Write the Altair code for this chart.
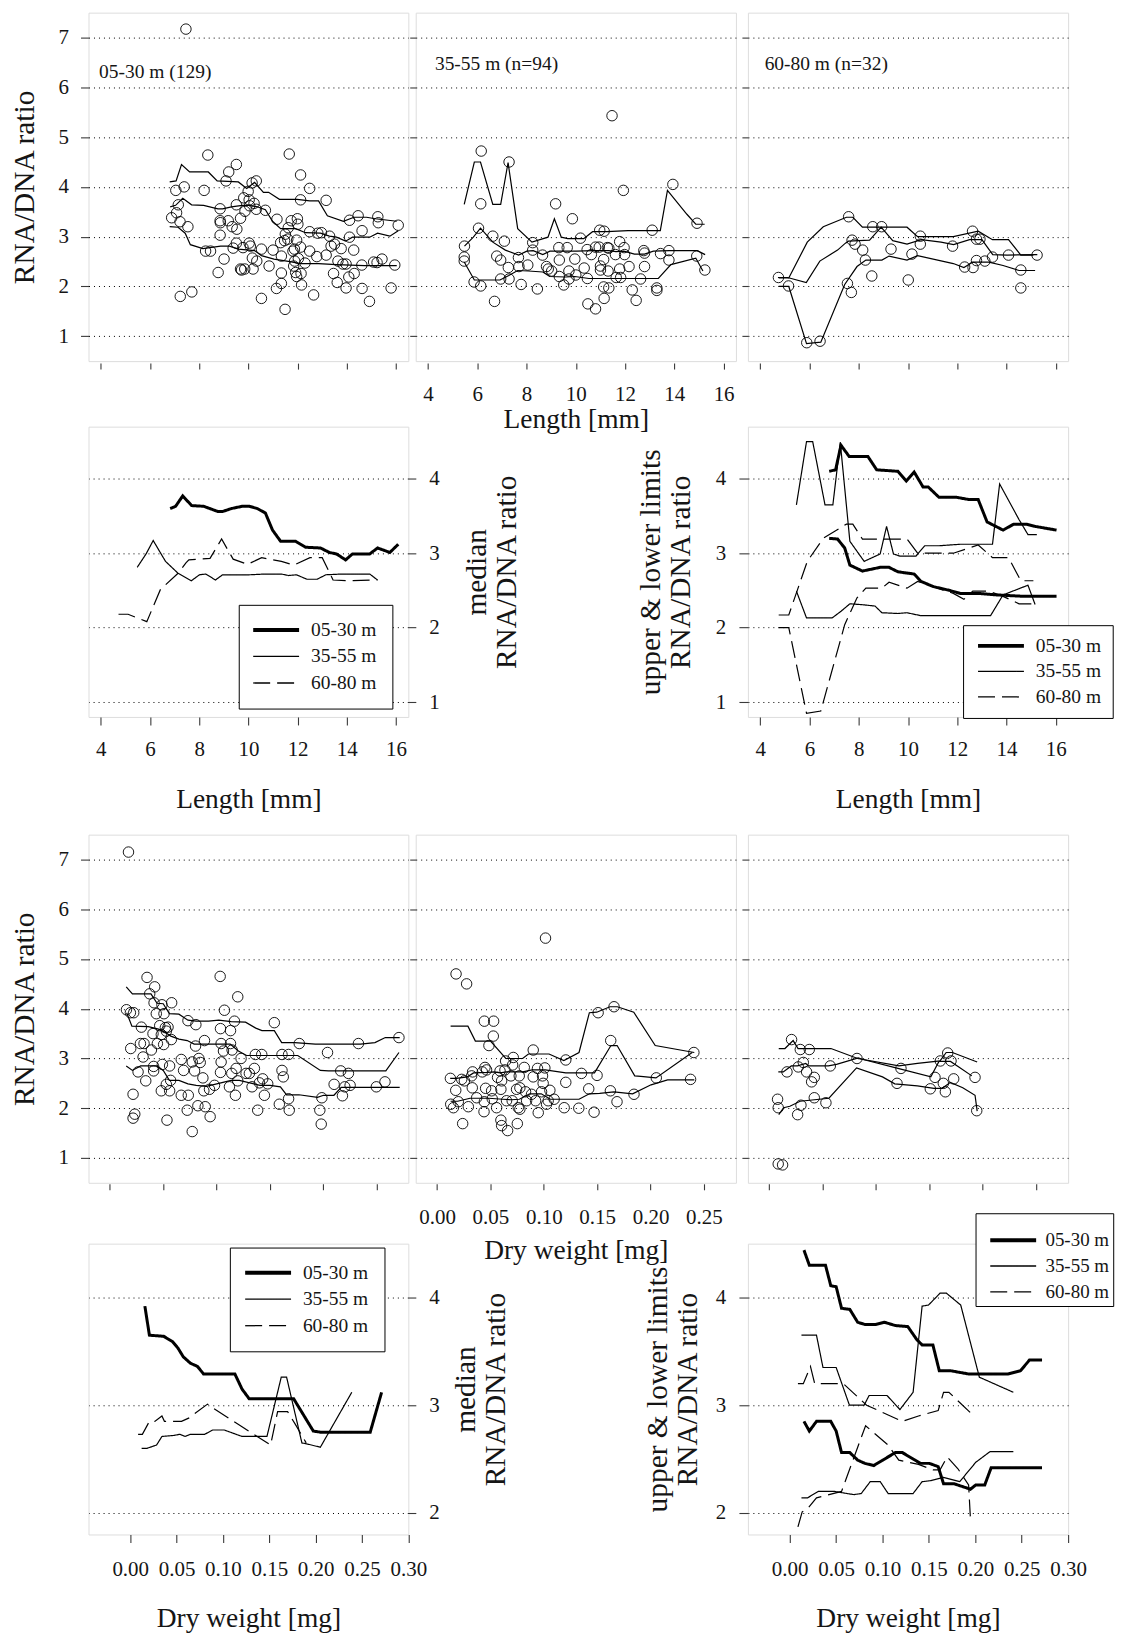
import altair as alt
import pandas as pd

FONT = "Liberation Serif"
INK = "#151515"
TICK = "#3a3a3a"
FRAME = "#5a5a5a"

DEPTHS = ["05-30 m", "35-55 m", "60-80 m"]
PANEL_LABELS = ["05-30 m (129)", "35-55 m (n=94)", "60-80 m (n=32)"]

LEN_TICKS = [4, 6, 8, 10, 12, 14, 16]
DW_TICKS_SCATTER = [0.0, 0.05, 0.1, 0.15, 0.2, 0.25]
DW_TICKS_SUMMARY = [0.0, 0.05, 0.1, 0.15, 0.2, 0.25, 0.3]
RATIO_TICKS_SCATTER = [1, 2, 3, 4, 5, 6, 7]
RATIO_TICKS_LEN = [1, 2, 3, 4]
RATIO_TICKS_DW = [2, 3, 4]

LEN_DOMAIN = [3.5, 16.5]
DW_DOMAIN_SCATTER = [-0.02, 0.28]
DW_DOMAIN_SUMMARY = [-0.045, 0.30]
RATIO_DOMAIN_SCATTER = [0.5, 7.5]
RATIO_DOMAIN_LEN = [0.8, 4.7]
RATIO_DOMAIN_DW = [1.8, 4.5]

# ---------------- individual fish: (length mm, RNA/DNA) ----------------
LEN_0530 = [(7.46,7.17),(6.88,3.38),(7.05,3.93),(7.08,3.48),(7.15,3.64),(7.22,3.30),(7.39,4.00),(7.54,3.20),(7.23,1.80),(7.70,1.89),
            (8.20,3.93),(8.35,4.64),(8.26,2.71),(8.46,2.71),(8.77,2.28),(8.85,3.56),(8.85,3.32),(8.86,3.28),(8.85,3.03),(9.01,2.55),
            (9.09,4.12),(9.20,4.30),(9.18,3.32),(9.34,3.20),(9.38,2.77),(9.51,4.45),(9.51,3.64),(9.53,3.15),(9.51,2.87),(9.68,3.37),
            (9.68,2.35),(9.78,2.78),(9.81,3.78),(9.85,2.35),(9.86,3.51),(9.99,3.91),(10.03,2.87),(10.03,3.74),(10.05,3.62),(10.08,2.81),
            (10.15,4.08),(10.16,2.57),(10.19,2.35),(10.23,3.67),(10.32,4.12),(10.32,3.55),(10.34,2.51),(10.53,2.75),(10.53,1.76),(10.69,3.53),
            (10.84,2.41),(11.00,2.73),(11.16,3.35),(11.14,1.96),(11.31,2.88),(11.34,2.61),(11.34,2.27),(11.34,2.06),(11.47,2.92),(11.49,1.54),
            (11.50,3.05),(11.66,4.66),(11.62,3.18),(11.74,3.32),(11.81,2.71),(11.88,2.51),(11.84,2.41),(11.96,2.93),(11.99,3.36),(12.01,3.25),
            (11.92,2.28),(11.96,2.20),(12.03,2.56),(12.12,4.24),(12.12,2.79),(12.12,3.74),(12.14,2.26),(12.16,2.03),(12.30,2.47),(12.49,2.71),
            (12.49,3.97),(12.49,3.10),(12.65,1.83),(12.78,2.60),(12.82,3.07),(12.97,3.08),(13.16,3.73),(13.16,2.63),(13.30,3.01),(13.36,2.81),
            (13.46,2.26),(13.50,2.85),(13.61,2.08),(13.64,2.51),(13.77,2.76),(13.84,2.45),(13.97,2.45),(13.97,1.97),(14.08,2.19),(14.11,3.33),
            (14.11,2.99),(14.28,2.73),(14.30,2.26),(14.46,3.42),(14.62,3.12),(14.61,2.43),(14.62,1.96),(14.92,1.70),(15.09,2.49),(15.23,2.48),
            (15.26,3.40),(15.28,3.28),(15.43,2.55),(15.80,1.97),(15.95,2.43),(16.09,3.23),(11.87,2.75),(9.72,2.33),(11.60,2.95)]
LEN_3555 = [(6.16,4.72),(7.29,4.50),(11.47,5.43),(13.94,4.05),(11.93,3.93),(6.14,3.66),(9.18,3.66),(9.86,3.36),(14.92,3.27),(10.97,3.13),
            (11.15,3.11),(13.10,3.13),(6.05,3.17),(5.48,2.81),(6.63,3.01),(7.10,2.91),(5.47,2.59),(5.47,2.51),(5.87,2.09),(6.14,2.01),
            (6.70,1.70),(6.79,2.61),(6.95,2.53),(6.95,2.15),(7.26,2.38),(7.29,2.15),(7.67,2.58),(7.69,2.40),(7.78,2.04),(8.05,2.43),
            (8.25,2.88),(8.25,2.73),(8.44,1.95),(8.65,2.63),(8.81,2.40),(8.88,2.35),(9.31,2.78),(9.33,2.53),(9.33,2.20),(9.51,2.03),
            (9.65,2.78),(9.72,2.31),(9.72,2.15),(9.96,2.55),(10.00,2.23),(10.19,2.97),(10.34,2.37),(10.46,2.74),(10.47,2.16),(10.49,1.65),
            (10.63,2.64),(10.80,1.55),(10.80,2.79),(10.95,2.79),(11.00,2.41),(11.00,2.33),(11.13,2.54),(11.13,1.99),(11.15,1.76),(11.28,2.78),
            (11.31,2.31),(11.34,1.97),(11.61,2.64),(11.64,2.18),(11.78,2.90),(11.78,2.35),(11.82,2.18),(11.96,2.78),(11.98,2.64),(12.16,2.40),
            (12.29,1.93),(12.45,1.72),(12.63,2.15),(12.76,2.72),(12.79,2.40),(13.29,1.97),(13.29,1.92),(13.44,2.66),(13.78,2.72),(13.78,2.53),
            (14.91,2.61),(15.24,2.33),(9.02,2.31),(12.79,2.67),(11.34,2.77)]
LEN_6080 = [(4.74,2.18),(5.15,2.01),(5.89,0.87),(6.43,0.90),(7.59,3.40),(7.54,2.06),(7.70,1.88),(7.73,2.93),(7.85,2.85),(8.16,2.73),
            (8.27,2.53),(8.53,2.21),(8.57,3.20),(8.93,3.20),(9.31,2.75),(10.01,2.13),(10.16,2.65),(10.50,3.01),(10.50,2.85),(11.81,2.81),
            (12.30,2.39),(12.62,3.11),(12.64,2.38),(12.78,2.52),(12.78,2.95),(12.92,2.95),(13.12,2.51),(13.43,2.59),(14.08,2.63),(14.58,2.33),
            (14.58,1.97),(15.24,2.63)]

# ---------------- individual fish: (dry weight mg, RNA/DNA) ----------------
DW_0530 = [(0.0175,7.15),(0.0156,3.98),(0.0193,3.92),(0.0224,3.92),(0.0196,3.20),(0.0218,2.28),(0.0218,1.80),(0.0234,1.88),(0.0265,2.73),(0.0296,3.63),
           (0.0287,3.30),(0.0312,3.03),(0.0321,3.30),(0.0337,2.55),(0.0349,4.63),(0.0374,4.30),(0.0390,3.17),(0.0405,3.50),(0.0415,4.12),(0.0421,4.44),
           (0.0411,2.84),(0.0411,2.75),(0.0436,3.90),(0.0446,3.30),(0.0468,3.66),(0.0483,3.48),(0.0489,4.08),(0.0493,2.88),(0.0483,2.35),(0.0505,3.28),
           (0.0508,3.90),(0.0521,3.62),(0.0530,3.55),(0.0530,2.48),(0.0546,3.63),(0.0561,2.85),(0.0561,2.35),(0.0536,1.76),(0.0570,2.56),(0.0577,3.38),
           (0.0580,4.12),(0.0670,2.98),(0.0670,2.26),(0.0692,2.76),(0.0726,1.96),(0.0736,2.26),(0.0733,3.76),(0.0773,1.53),(0.0773,2.93),(0.0795,2.75),
           (0.0804,3.25),(0.0807,3.68),(0.0826,2.05),(0.0835,3.00),(0.0848,2.92),(0.0873,2.61),(0.0882,2.35),(0.0888,3.36),(0.0895,2.03),(0.0935,2.38),
           (0.0941,1.83),(0.0982,2.46),(0.1035,4.65),(0.1038,3.60),(0.1044,3.30),(0.1044,2.93),(0.1038,2.72),(0.1066,3.15),(0.1075,3.97),(0.1122,2.43),
           (0.1132,3.56),(0.1132,3.30),(0.1144,2.70),(0.1147,3.17),(0.1169,3.75),(0.1178,2.26),(0.1185,2.80),(0.1200,4.24),(0.1200,2.55),(0.1231,3.00),
           (0.1278,2.70),(0.1309,2.70),(0.1334,2.43),(0.1356,2.80),(0.1365,3.08),(0.1387,1.96),(0.1403,2.51),(0.1425,3.08),(0.1434,2.59),(0.1450,2.26),
           (0.1481,2.49),(0.1543,3.72),(0.1590,2.08),(0.1615,3.08),(0.1615,2.76),(0.1627,2.63),(0.1677,3.08),(0.1677,2.19),(0.1683,1.96),(0.1777,3.30),
           (0.1970,1.96),(0.1983,1.68),(0.1989,2.21),(0.2042,3.12),(0.2104,2.48),(0.2166,2.75),(0.2182,2.25),(0.2204,2.43),(0.2238,2.70),(0.2254,2.46),
           (0.2332,3.30),(0.2500,2.43),(0.2581,2.53),(0.2712,3.42)]
DW_3555 = [(0.0178,4.70),(0.0277,4.50),(0.1016,5.42),(0.1509,3.92),(0.1658,4.04),(0.0443,3.75),(0.0530,3.75),(0.0527,3.45),(0.0486,3.26),(0.0901,3.17),
           (0.1206,2.97),(0.1627,3.36),(0.2406,3.12),(0.0125,2.60),(0.0175,2.36),(0.0128,2.08),(0.0153,2.01),(0.0199,2.13),(0.0240,1.69),(0.0231,2.58),
           (0.0256,2.55),(0.0293,2.03),(0.0324,2.65),(0.0333,2.73),(0.0330,2.41),(0.0371,2.21),(0.0424,2.73),(0.0440,1.93),(0.0449,2.82),(0.0455,2.40),
           (0.0464,2.77),(0.0443,2.13),(0.0511,2.35),(0.0517,2.19),(0.0558,2.01),(0.0567,2.62),(0.0598,2.38),(0.0605,2.55),(0.0598,1.76),(0.0605,1.65),
           (0.0636,2.77),(0.0642,2.95),(0.0651,2.15),(0.0661,1.55),(0.0692,2.65),(0.0708,2.87),(0.0714,3.02),(0.0704,2.15),(0.0745,2.38),(0.0752,1.69),
           (0.0761,2.01),(0.0770,2.65),(0.0776,2.41),(0.0776,1.98),(0.0817,2.82),(0.0829,2.33),(0.0839,2.15),(0.0885,2.28),(0.0901,2.63),(0.0923,2.15),
           (0.0941,2.80),(0.0948,1.91),(0.0979,2.33),(0.0988,2.65),(0.1010,2.81),(0.0994,2.50),(0.1026,2.08),(0.1041,2.15),(0.1057,2.36),(0.1097,2.18),
           (0.1191,2.01),(0.1206,2.52),(0.1328,2.00),(0.1353,2.70),(0.1421,2.39),(0.1471,1.92),(0.1499,2.66),(0.1624,2.35),(0.1686,2.13),(0.1845,2.28),
           (0.2054,2.61),(0.2375,2.58),(0.0590,2.75)]
DW_6080 = [(0.0084,0.88),(0.0125,0.86),(0.0078,2.18),(0.0084,2.01),(0.0166,2.73),(0.0209,3.38),(0.0266,1.87),(0.0297,2.06),(0.0272,2.83),(0.0291,3.18),
           (0.0319,2.92),(0.0350,2.73),(0.0375,3.18),(0.0422,2.62),(0.0397,2.53),(0.0422,2.21),(0.0531,2.11),(0.0572,2.85),(0.0822,3.00),(0.1197,2.50),
           (0.1234,2.80),(0.1509,2.39),(0.1553,2.62),(0.1603,2.95),(0.1631,2.50),(0.1650,2.33),(0.1672,3.11),(0.1703,2.95),(0.1728,2.59),(0.1928,2.62),
           (0.1944,1.95)]

# ---------------- running median / limits vs length ----------------
LEN_MED_0530 = [(6.82,3.60),(7.04,3.63),(7.33,3.77),(7.69,3.64),(8.18,3.63),(8.76,3.56),(8.95,3.56),(9.31,3.60),(9.75,3.63),(10.04,3.63),
                (10.36,3.60),(10.69,3.54),(10.98,3.31),(11.31,3.16),(11.92,3.16),(12.32,3.08),(12.93,3.07),(13.29,3.01),(13.58,2.99),(13.95,2.91),
                (14.23,2.99),(14.93,2.99),(15.25,3.07),(15.75,3.01),(16.09,3.12)]
LEN_MED_3555 = [(5.48,2.81),(5.84,2.99),(6.13,3.17),(6.63,2.89),(7.14,2.73),(7.68,2.63),(8.01,2.71),(8.27,2.72),(8.66,2.64),(8.95,2.71),
                (10.04,2.71),(10.69,2.72),(11.34,2.72),(11.63,2.70),(11.95,2.71),(12.38,2.65),(12.79,2.65),(13.15,2.71),(13.80,2.72),(14.93,2.72),(15.25,2.64)]
LEN_MED_6080 = [(4.72,2.18),(5.11,2.18),(5.87,2.08),(6.42,2.51),(7.14,2.73),(7.46,2.87),(7.58,2.91),(8.44,2.93),(8.91,3.19),(9.38,2.92),
                (9.96,2.85),(10.54,2.94),(11.34,2.89),(11.85,2.84),(12.50,2.94),(13.00,2.94),(13.44,2.64),(14.02,2.63),(15.25,2.64)]
LEN_UP_0530 = [(6.80,4.10),(7.06,4.12),(7.28,4.45),(7.61,4.30),(8.37,4.30),(8.73,4.12),(9.59,4.10),(9.93,3.97),(10.25,4.09),(10.61,3.89),
               (10.82,3.89),(11.26,3.75),(11.98,3.75),(12.49,3.72),(12.85,3.72),(13.21,3.42),(13.86,3.31),(14.29,3.39),(14.80,3.39),(15.16,3.36),(16.03,3.31)]
LEN_LO_0530 = [(6.80,3.20),(7.14,3.19),(7.43,3.07),(7.64,2.84),(8.15,2.76),(8.87,2.81),(9.23,2.81),(9.59,2.75),(10.25,2.72),(10.53,2.62),
               (11.04,2.55),(11.69,2.50),(12.12,2.46),(12.85,2.46),(13.57,2.44),(14.73,2.42),(16.03,2.42)]
LEN_UP_3555 = [(5.47,3.65),(5.88,4.50),(6.13,4.50),(6.63,3.65),(6.95,3.65),(7.25,4.49),(7.64,3.16),(8.22,2.89),(8.87,2.99),(9.13,3.36),
               (9.41,2.99),(9.67,2.96),(10.32,2.96),(10.68,3.10),(11.26,3.10),(12.12,3.12),(13.43,3.12),(13.72,3.93),(14.51,3.45),(14.87,3.25),(15.23,3.25)]
LEN_LO_3555 = [(5.47,2.49),(5.88,2.13),(6.92,2.13),(7.28,2.22),(7.64,2.32),(8.08,2.31),(8.66,2.29),(8.94,2.20),(9.59,2.19),(9.96,2.20),
               (10.53,2.16),(11.84,2.16),(12.92,2.16),(13.35,2.16),(13.86,2.44),(14.87,2.57),(15.16,2.31)]
LEN_UP_6080 = [(4.75,2.17),(5.16,2.17),(5.91,2.89),(6.56,3.20),(7.50,3.39),(7.76,3.39),(8.15,3.19),(9.96,3.19),(10.39,3.00),(11.84,3.00),
               (12.85,3.11),(13.43,2.94),(14.08,2.94),(14.58,2.63),(15.09,2.63)]
LEN_LO_6080 = [(4.75,2.00),(5.16,2.00),(5.88,0.85),(6.46,0.88),(7.43,2.04),(7.93,2.40),(8.29,2.53),(8.94,2.53),(9.23,2.61),(9.96,2.53),
               (10.39,2.62),(11.84,2.46),(12.27,2.38),(12.63,2.49),(13.28,2.49),(13.86,2.42),(14.51,2.32),(15.16,2.32)]

# ---------------- running median / limits vs dry weight ----------------
DW_MED_0530 = [(0.0158,3.92),(0.0207,3.65),(0.0361,3.64),(0.0457,3.59),(0.0515,3.53),(0.0572,3.45),(0.0649,3.39),(0.0726,3.36),(0.0791,3.29),
               (0.0880,3.29),(0.1129,3.29),(0.1206,3.15),(0.1283,3.06),(0.1763,3.06),(0.1975,2.76),(0.2051,2.75),(0.2589,2.75),(0.2712,3.12)]
DW_MED_3555 = [(0.0123,2.60),(0.0181,2.60),(0.0284,2.63),(0.0342,2.71),(0.0476,2.72),(0.0534,2.73),(0.0592,2.71),(0.0649,2.73),(0.0803,2.73),
               (0.0891,2.77),(0.1014,2.77),(0.1206,2.71),(0.1322,2.71),(0.1475,2.71),(0.1629,3.26),(0.1687,3.26),(0.1852,2.65),(0.1909,2.64),
               (0.2051,2.61),(0.2390,3.12)]
DW_MED_6080 = [(0.0085,2.73),(0.0131,2.73),(0.0207,2.85),(0.0265,2.85),(0.0342,2.90),(0.0369,2.85),(0.0553,2.85),(0.0630,2.88),(0.0834,3.01),
               (0.0880,2.98),(0.1206,2.80),(0.1514,2.63),(0.1590,2.94),(0.1698,2.94),(0.1783,2.82),(0.1898,2.65)]
DW_UP_0530 = [(0.0154,4.44),(0.0212,4.30),(0.0386,4.30),(0.0443,4.11),(0.0501,4.10),(0.0559,3.90),(0.0648,3.89),(0.0733,3.77),(0.0810,3.75),
              (0.0926,3.75),(0.1022,3.77),(0.1138,3.74),(0.1273,3.73),(0.1369,3.61),(0.1427,3.56),(0.1543,3.56),(0.1612,3.32),(0.1735,3.32),
              (0.1928,3.29),(0.2352,3.29),(0.2487,3.32),(0.2584,3.42),(0.2719,3.42)]
DW_LO_0530 = [(0.0154,2.85),(0.0212,2.76),(0.0289,2.85),(0.0443,2.85),(0.0501,2.76),(0.0559,2.56),(0.0648,2.56),(0.0733,2.49),(0.0810,2.46),
              (0.0906,2.44),(0.1003,2.49),(0.1138,2.56),(0.1215,2.56),(0.1408,2.46),(0.1504,2.46),(0.1600,2.43),(0.1658,2.27),(0.1774,2.27),
              (0.1948,2.22),(0.2005,2.26),(0.2102,2.26),(0.2171,2.42),(0.2719,2.42)]
DW_UP_3555 = [(0.0127,3.65),(0.0289,3.65),(0.0359,3.35),(0.0501,3.35),(0.0644,3.00),(0.0802,3.00),(0.0856,3.09),(0.1049,3.09),(0.1188,2.96),
              (0.1330,3.12),(0.1427,3.92),(0.1496,3.93),(0.1620,4.04),(0.1689,4.04),(0.1843,3.93),(0.2044,3.26),(0.2410,3.12)]
DW_LO_3555 = [(0.0127,2.14),(0.0193,2.14),(0.0309,2.20),(0.0482,2.20),(0.0617,2.18),(0.0694,2.17),(0.0771,2.18),(0.0868,2.29),(0.0976,2.29),
              (0.1061,2.18),(0.1330,2.18),(0.1427,2.29),(0.1523,2.30),(0.1658,2.33),(0.1832,2.29),(0.2005,2.47),(0.2160,2.57),(0.2410,2.57)]
DW_UP_6080 = [(0.0089,3.20),(0.0147,3.20),(0.0224,3.36),(0.0270,3.20),(0.0578,3.20),(0.0829,3.00),(0.1215,2.85),(0.1388,2.90),(0.1600,2.95),
              (0.1658,3.12),(0.1716,3.12),(0.1948,2.93)]
DW_LO_6080 = [(0.0089,1.87),(0.0135,2.01),(0.0193,2.04),(0.0289,2.14),(0.0559,2.20),(0.0818,2.81),(0.1061,2.63),(0.1176,2.49),(0.1388,2.45),
              (0.1543,2.40),(0.1620,2.40),(0.1697,2.52),(0.1813,2.41),(0.1928,2.26),(0.1948,1.94)]

# ---------------- grid layout: 5 columns x 7 rows (panels + spacers), flush bounds ----------------
COLW = [320.6, 6.4, 321.0, 11.6, 321.0]
ROWH = [349.3, 64.7, 291.0, 117.6, 349.0, 60.5, 291.5]
LABEL_ANCHORS = [(3.93, 6.18), (4.28, 6.35), (4.18, 6.35)]   # data coords of the depth-range captions


def series_df(series):
    frames = []
    for depth, which, pairs in series:
        d = pd.DataFrame(pairs, columns=["x", "y"])
        d["depth"] = depth
        d["which"] = which
        frames.append(d)
    return pd.concat(frames, ignore_index=True)


def common_axis():
    return dict(domain=False, tickColor=TICK, tickWidth=1.1, labelFont=FONT, labelColor=INK,
                titleFont=FONT, titleColor=INK, titleFontWeight="normal", labelOverlap=False, labelFlush=False)


def grid_kw():
    return dict(grid=True, gridDash=[1, 4], gridColor="black", gridOpacity=1, gridWidth=1)


def spacer(r, ccol):
    return (alt.Chart(pd.DataFrame({"v": [0]}))
            .mark_point(size=0, opacity=0, strokeWidth=0)
            .encode(x=alt.value(1), y=alt.value(1))
            .properties(width=COLW[ccol], height=ROWH[r], view=alt.ViewBackground(stroke="transparent")))


def scatter_panel(pairs, series, xdom, xticks, col, r, xtitle, xfmt, x_gap, xlab_pad, xtitle_pad, label=None):
    xkw = dict(offset=x_gap, values=xticks, tickSize=6, grid=False, labels=(col == 1), **common_axis())
    if col == 1:
        xkw.update(format=xfmt, labelFontSize=21, labelPadding=xlab_pad, title=xtitle, titleFontSize=27.5,
                   titlePadding=xtitle_pad)
    else:
        xkw.update(title=None)
    ykw = dict(values=RATIO_TICKS_SCATTER, tickSize=(8 if col == 0 else 6), labels=(col == 0),
               **grid_kw(), **common_axis())
    if col == 0:
        ykw.update(labelFontSize=21, labelPadding=12.2, title="RNA/DNA ratio", titleFontSize=29.5, titlePadding=18.5)
    else:
        ykw.update(title=None)
    X = alt.X("x:Q", scale=alt.Scale(domain=xdom, nice=False, zero=False), axis=alt.Axis(**xkw))
    Y = alt.Y("y:Q", scale=alt.Scale(domain=RATIO_DOMAIN_SCATTER, nice=False, zero=False), axis=alt.Axis(**ykw))
    ln = alt.Chart(series_df(series)).mark_line(color="black", strokeWidth=1.2).encode(x=X, y=Y, detail="which:N")
    pt = alt.Chart(pd.DataFrame(pairs, columns=["x", "y"])).mark_point(
        shape="circle", filled=False, color="black", size=110, strokeWidth=0.9, opacity=1).encode(x=X, y=Y)
    layers = [ln, pt]
    if label:
        lx, ly = LABEL_ANCHORS[col]
        layers.append(alt.Chart(pd.DataFrame({"t": [label], "x": [lx], "y": [ly]})).mark_text(
            align="left", baseline="alphabetic", font=FONT, fontSize=19.5, color=INK).encode(
            x=X, y=Y, text="t:N"))
    return alt.layer(*layers).properties(width=COLW[2 * col], height=ROWH[r])


def summary_panel(series, side, r, xdom, xticks, xfmt, ydom, yticks, ytitle, ylab_pad, ytitle_pad,
                  xtitle, xlab_pad, xtitle_pad, leg):
    xkw = dict(offset=0, values=xticks, tickSize=8, grid=False, format=xfmt, labelFontSize=21,
               labelPadding=xlab_pad, title=xtitle, titleFontSize=27.5, titlePadding=xtitle_pad, **common_axis())
    if side == "L":
        ykw = dict(orient="right", tickSize=7.5, titleBaseline="top")
    else:
        ykw = dict(orient="left", tickSize=9, titleBaseline="bottom")
    ykw.update(values=yticks, labelFontSize=21, labelPadding=ylab_pad, title=ytitle, titleFontSize=29.5,
               titleLineHeight=30, titleAngle=270, titlePadding=ytitle_pad, **grid_kw(), **common_axis())
    X = alt.X("x:Q", scale=alt.Scale(domain=xdom, nice=False, zero=False), axis=alt.Axis(**xkw))
    Y = alt.Y("y:Q", scale=alt.Scale(domain=ydom, nice=False, zero=False), axis=alt.Axis(**ykw))
    width = COLW[0] if side == "L" else COLW[4]
    return alt.Chart(series_df(series)).mark_line(color="black").encode(
        x=X, y=Y,
        strokeDash=alt.StrokeDash("depth:N", scale=alt.Scale(domain=DEPTHS, range=[[1, 0], [1, 0], [17, 7]]),
                                  legend=leg),
        strokeWidth=alt.condition(alt.datum.depth == "05-30 m", alt.value(3), alt.value(1.2)),
        detail="which:N").properties(width=width, height=ROWH[r])


def legend(lx, ly, pad, sym_off, lab_off, font_size, row_pad, header=None):
    kw = dict(orient="none", legendX=lx, legendY=ly, symbolType="stroke", symbolSize=2116, symbolStrokeColor="black",
              symbolStrokeWidth=alt.ExprRef(expr="datum.value == '05-30 m' ? 4 : 1.3"),
              symbolOffset=sym_off, labelOffset=lab_off, labelFont=FONT, labelFontSize=font_size, labelColor=INK,
              padding=pad, rowPadding=row_pad, strokeColor="black", fillColor="white", cornerRadius=0)
    if header:
        kw.update(title="\u00a0", titleFontSize=header[0], titlePadding=header[1], titleFont=FONT)
    else:
        kw.update(title=None)
    return alt.Legend(**kw)


def q_series(depth, up, med, lo):
    return [(depth, "upper", up), (depth, "median", med), (depth, "lower", lo)]


len_pts = [LEN_0530, LEN_3555, LEN_6080]
len_q = [(LEN_UP_0530, LEN_MED_0530, LEN_LO_0530), (LEN_UP_3555, LEN_MED_3555, LEN_LO_3555),
         (LEN_UP_6080, LEN_MED_6080, LEN_LO_6080)]
dw_pts = [DW_0530, DW_3555, DW_6080]
dw_q = [(DW_UP_0530, DW_MED_0530, DW_LO_0530), (DW_UP_3555, DW_MED_3555, DW_LO_3555),
        (DW_UP_6080, DW_MED_6080, DW_LO_6080)]

r1 = [scatter_panel(len_pts[i], q_series(DEPTHS[i], *len_q[i]), LEN_DOMAIN, LEN_TICKS, i, 0,
                    "Length [mm]", "d", 2, 14.6, 0.6, PANEL_LABELS[i]) for i in range(3)]
r3 = [scatter_panel(dw_pts[i], q_series(DEPTHS[i], *dw_q[i]), DW_DOMAIN_SCATTER, DW_TICKS_SCATTER, i, 4,
                    "Dry weight [mg]", ".2f", 1, 16.5, 9.4) for i in range(3)]

len_med = [(DEPTHS[i], "median", len_q[i][1]) for i in range(3)]
len_lim = [(DEPTHS[i], w, len_q[i][k]) for i in range(3) for w, k in (("upper", 0), ("lower", 2))]
dw_med = [(DEPTHS[i], "median", dw_q[i][1]) for i in range(3)]
dw_lim = [(DEPTHS[i], w, dw_q[i][k]) for i in range(3) for w, k in (("upper", 0), ("lower", 2))]

p2L = summary_panel(len_med, "L", 2, LEN_DOMAIN, LEN_TICKS, "d", RATIO_DOMAIN_LEN, RATIO_TICKS_LEN,
                    ["median", "RNA/DNA ratio"], 13, -6.5, "Length [mm]", 13.9, 25.7,
                    legend(150.6, 178.6, 15.4, 12.35, 25.25, 19.5, 5.6))
p2R = summary_panel(len_lim, "R", 2, LEN_DOMAIN, LEN_TICKS, "d", RATIO_DOMAIN_LEN, RATIO_TICKS_LEN,
                    ["upper & lower limits", "RNA/DNA ratio"], 13.2, 19.8, "Length [mm]", 13.9, 25.7,
                    legend(215.7, 199.0, 11, 17.25, 25.05, 19.5, 4.6))
p4L = summary_panel(dw_med, "L", 6, DW_DOMAIN_SUMMARY, DW_TICKS_SUMMARY, ".2f", RATIO_DOMAIN_DW, RATIO_TICKS_DW,
                    ["median", "RNA/DNA ratio"], 13, -17.6, "Dry weight [mg]", 16.0, 25.6,
                    legend(141.7, 3.9, 15.4, 13.2, 25.1, 19.5, 5.6))
p4R = summary_panel(dw_lim, "R", 6, DW_DOMAIN_SUMMARY, DW_TICKS_SUMMARY, ".2f", RATIO_DOMAIN_DW, RATIO_TICKS_DW,
                    ["upper & lower limits", "RNA/DNA ratio"], 13.2, 12.6, "Dry weight [mg]", 16.0, 25.6,
                    legend(228.2, -30.5, 4, 24.25, 22.8, 19, 5.9, header=(10, 3.5)))

cells = (
    [r1[0], spacer(0, 1), r1[1], spacer(0, 3), r1[2]]
    + [spacer(1, j) for j in range(5)]
    + [p2L, spacer(2, 1), spacer(2, 2), spacer(2, 3), p2R]
    + [spacer(3, j) for j in range(5)]
    + [r3[0], spacer(4, 1), r3[1], spacer(4, 3), r3[2]]
    + [spacer(5, j) for j in range(5)]
    + [p4L, spacer(6, 1), spacer(6, 2), spacer(6, 3), p4R]
)

chart = (alt.concat(*cells, columns=5, spacing=0, bounds="flush")
         .resolve_scale(strokeDash="independent")
         .resolve_legend(strokeDash="independent")
         .properties(padding={"left": 0.7, "top": 1.7, "right": 0, "bottom": 0}, background="white")
         .configure_view(stroke=FRAME, strokeWidth=1.3)
         .configure(font=FONT))

chart.save("out.html", embed_options={"renderer": "svg", "actions": False})
